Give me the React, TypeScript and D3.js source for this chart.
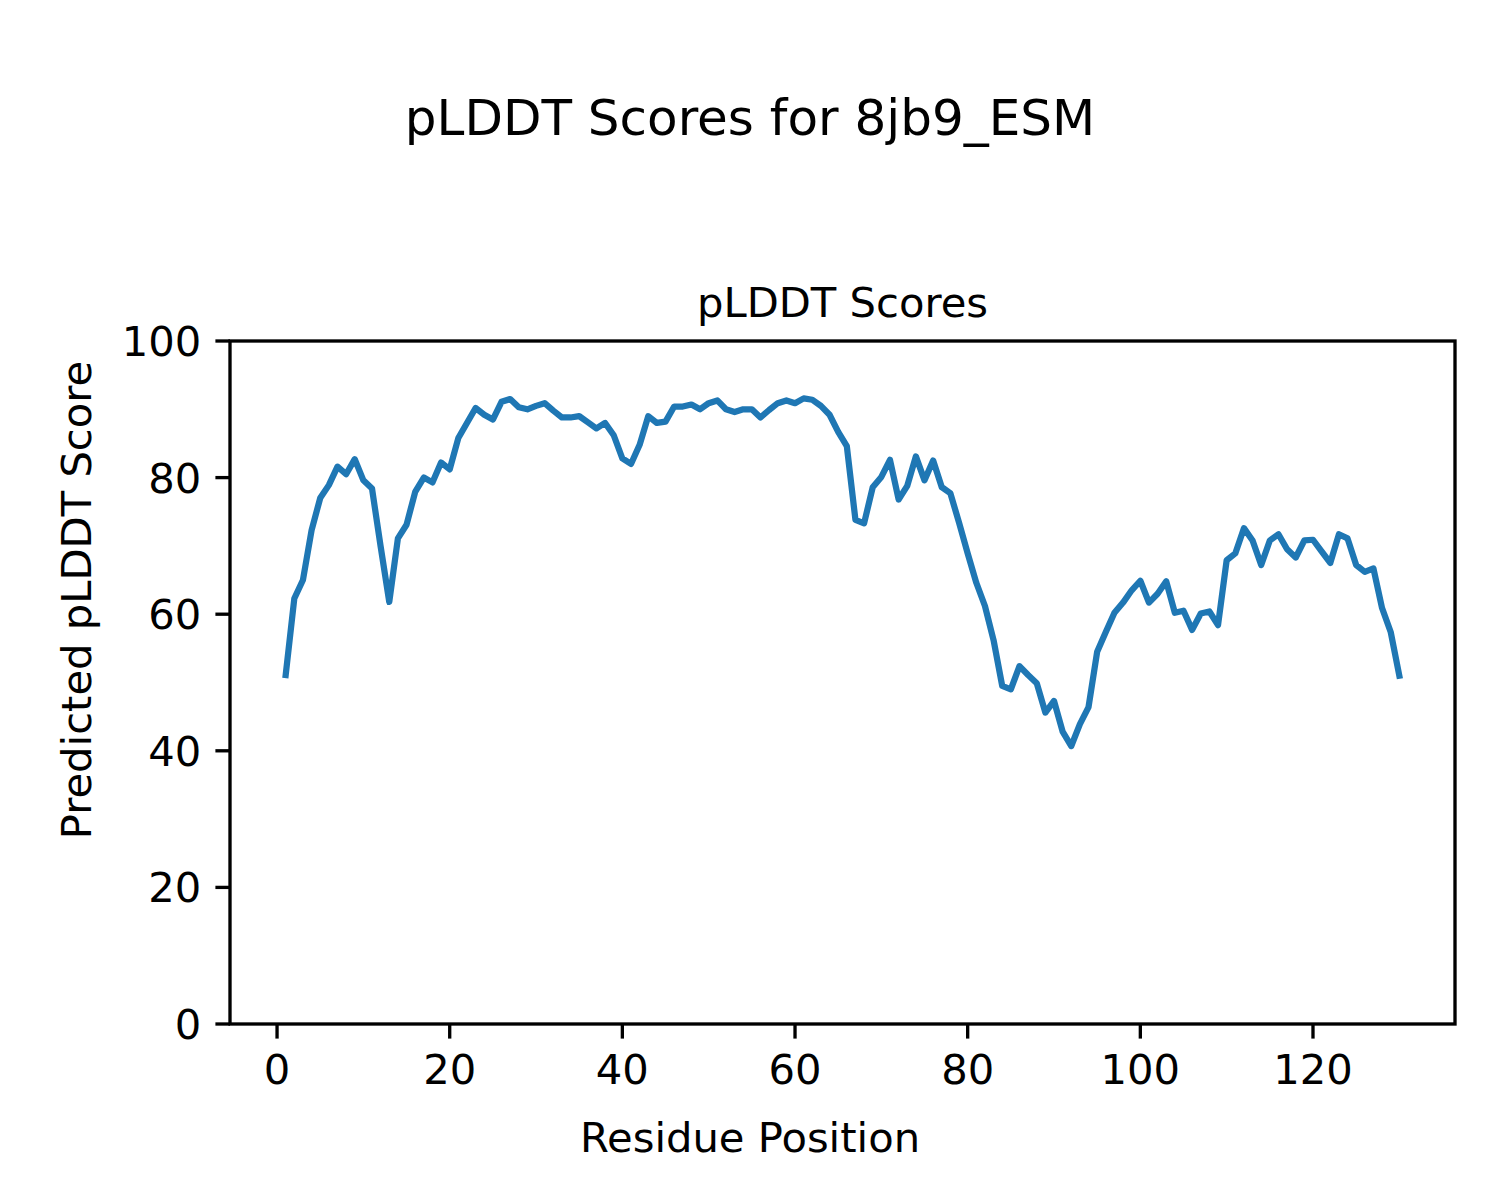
import React from "react";
import * as d3 from "d3";

const scores: number[] = [
  51.1, 62.3, 65.0, 72.3, 77.0, 78.9, 81.6, 80.5, 82.7, 79.6,
  78.4, 69.9, 61.8, 71.1, 73.1, 77.9, 80.0, 79.3, 82.2, 81.2,
  85.8, 88.0, 90.2, 89.2, 88.5, 91.1, 91.5, 90.3, 90.0, 90.5,
  90.9, 89.8, 88.8, 88.8, 89.0, 88.1, 87.2, 88.0, 86.2, 82.8,
  82.0, 84.8, 89.0, 88.0, 88.2, 90.4, 90.4, 90.7, 90.0, 90.9,
  91.3, 90.0, 89.6, 90.0, 90.0, 88.8, 89.9, 90.9, 91.3, 90.9,
  91.6, 91.4, 90.5, 89.2, 86.7, 84.6, 73.8, 73.3, 78.6, 80.1,
  82.6, 76.8, 78.8, 83.1, 79.6, 82.5, 78.6, 77.7, 73.4, 68.9,
  64.6, 61.2, 56.2, 49.5, 49.0, 52.4, 51.1, 49.9, 45.6, 47.3,
  42.8, 40.7, 43.9, 46.4, 54.5, 57.4, 60.2, 61.7, 63.5, 64.9,
  61.7, 63.0, 64.8, 60.2, 60.5, 57.7, 60.1, 60.4, 58.4, 67.9,
  68.9, 72.6, 70.8, 67.2, 70.8, 71.7, 69.5, 68.3, 70.8, 70.9,
  69.2, 67.5, 71.7, 71.1, 67.2, 66.2, 66.7, 60.9, 57.4, 51.0,
];
const positions: number[] = scores.map((_, i) => i + 1);
const xTicks: number[] = [0, 20, 40, 60, 80, 100, 120];
const yTicks: number[] = [0, 20, 40, 60, 80, 100];

const suptitle = "pLDDT Scores for 8jb9_ESM";
const axTitle = "pLDDT Scores";
const xLabel = "Residue Position";
const yLabel = "Predicted pLDDT Score";

export default function App() {
  const W = 1500, H = 1200;
  const left = 230, right = 1455, top = 341, bottom = 1024;
  const n = positions.length;
  const pad = (positions[n - 1] - positions[0]) * 0.05;
  const x = d3.scaleLinear().domain([positions[0] - pad, positions[n - 1] + pad]).range([left, right]);
  const y = d3.scaleLinear().domain([0, 100]).range([bottom, top]);
  const line = d3.line<number>().x((_, i) => x(positions[i])).y((d) => y(d));
  const font = "DejaVu Sans, sans-serif";
  const fs = 41.7;
  const tick = 14.6;
  return (
    <svg width={W} height={H} style={{ display: "block", position: "absolute", left: 0, top: 0 }} fontFamily={font}>
      <rect width={W} height={H} fill="#fff" />
      <text x={750} y={135} fontSize={50} textAnchor="middle">{suptitle}</text>
      <text x={(left + right) / 2} y={top - 24} fontSize={fs} textAnchor="middle">{axTitle}</text>
      <path d={line(scores) || ""} fill="none" stroke="#1f77b4" strokeWidth={6.25} strokeLinejoin="round" strokeLinecap="square" />
      <rect x={left} y={top} width={right - left} height={bottom - top} fill="none" stroke="#000" strokeWidth={3.33} />
      {xTicks.map((t) => (
        <g key={"x" + t}>
          <line x1={x(t)} x2={x(t)} y1={bottom} y2={bottom + tick} stroke="#000" strokeWidth={3.33} />
          <text x={x(t)} y={bottom + tick + 14 + fs * 0.76} fontSize={fs} textAnchor="middle">{t}</text>
        </g>
      ))}
      {yTicks.map((t) => (
        <g key={"y" + t}>
          <line x1={left - tick} x2={left} y1={y(t)} y2={y(t)} stroke="#000" strokeWidth={3.33} />
          <text x={left - tick - 14} y={y(t) + fs * 0.36} fontSize={fs} textAnchor="end">{t}</text>
        </g>
      ))}
      <text x={750} y={1152} fontSize={fs} textAnchor="middle">{xLabel}</text>
      <text transform={`translate(${91},${600}) rotate(-90)`} fontSize={fs} textAnchor="middle">{yLabel}</text>
    </svg>
  );
}
